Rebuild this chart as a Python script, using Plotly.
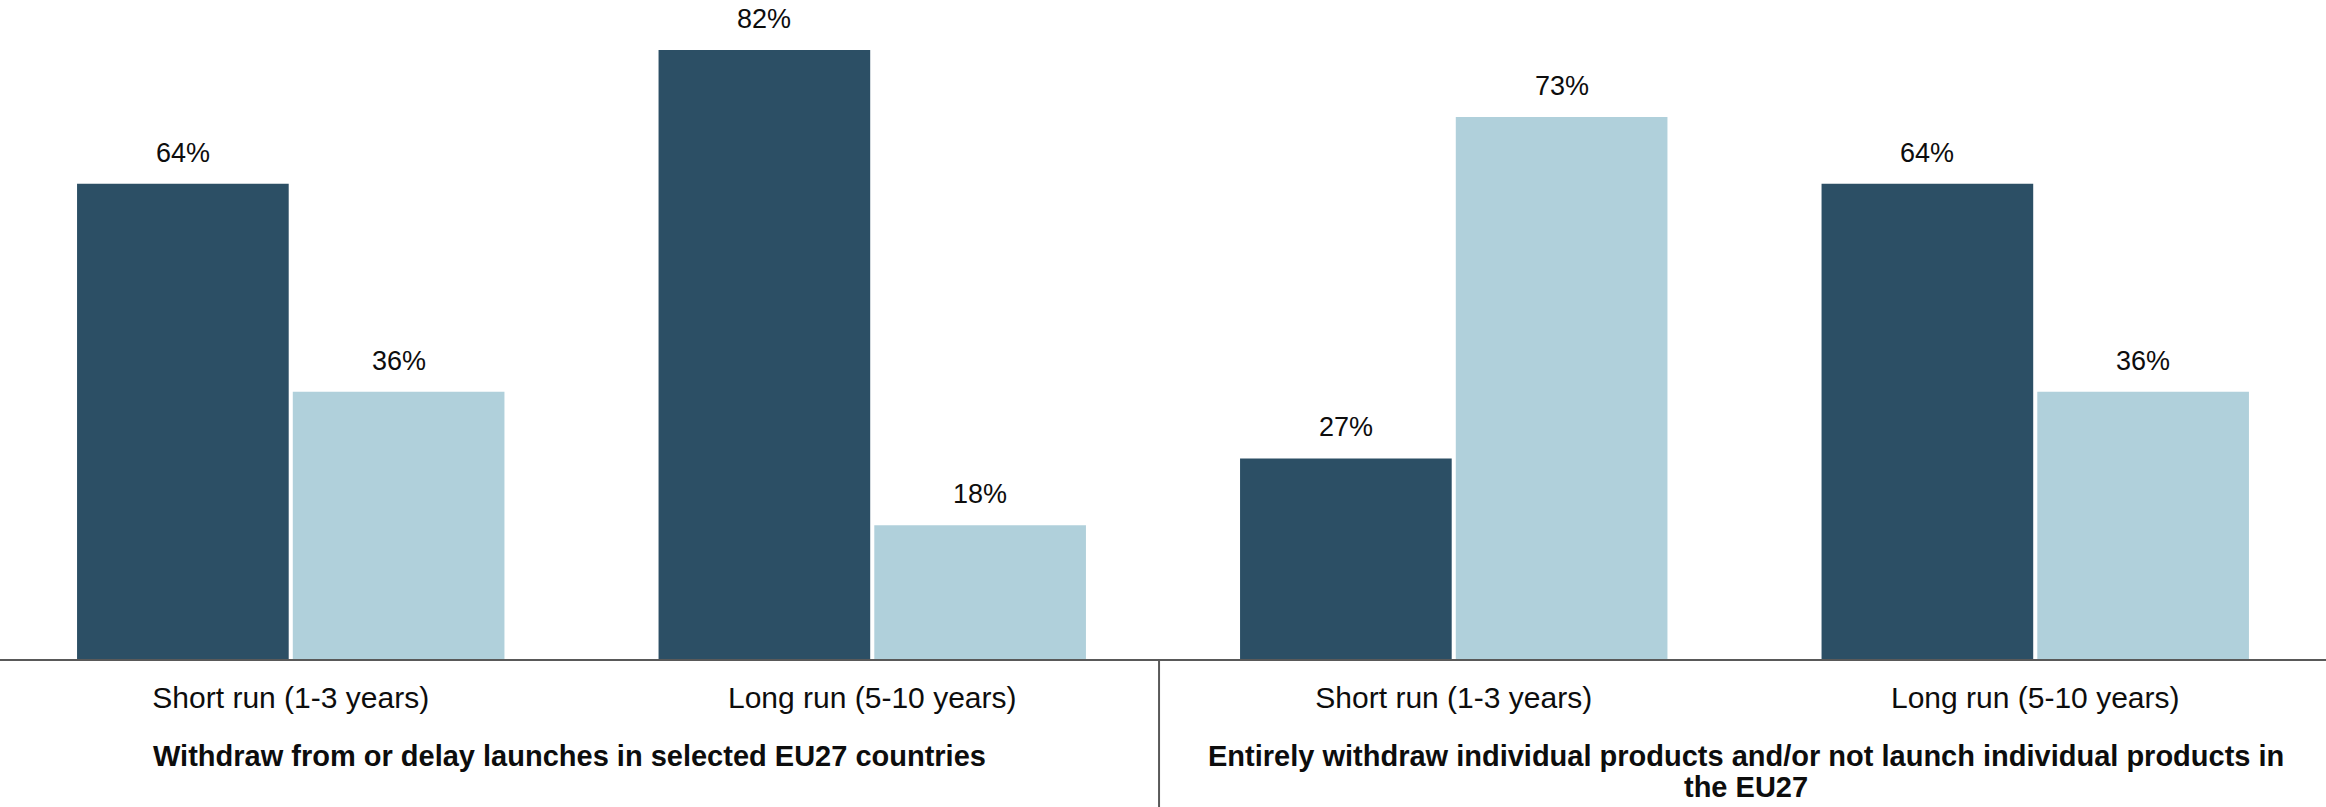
import plotly.graph_objects as go

# ---- data ----
categories = ["Short run (1-3 years)", "Long run (5-10 years)",
              "Short run (1-3 years)", "Long run (5-10 years)"]
group_title_1 = "Withdraw from or delay launches in selected EU27 countries"
group_title_2_lines = ["Entirely withdraw individual products and/or not launch individual products in",
                       "the EU27"]
series_dark = [64, 82, 27, 64]
series_light = [36, 18, 73, 36]

# ---- style ----
DARK = "#2C4F65"
LIGHT = "#B0D0DB"
TEXT = "#0D0D0D"
LINE = "#595959"
FONT = "Liberation Sans, Arial, sans-serif"
BAR_W = 0.364
OFF_DARK = -0.3675
OFF_LIGHT = 0.0035

xpos = list(range(len(categories)))

fig = go.Figure()
fig.add_trace(go.Bar(x=xpos, y=series_dark, width=BAR_W, offset=OFF_DARK,
                     marker=dict(color=DARK, line=dict(width=0)), name="Series 1",
                     hoverinfo="y"))
fig.add_trace(go.Bar(x=xpos, y=series_light, width=BAR_W, offset=OFF_LIGHT,
                     marker=dict(color=LIGHT, line=dict(width=0)), name="Series 2",
                     hoverinfo="y"))

annotations = []
for i, (a, b) in enumerate(zip(series_dark, series_light)):
    for v, off in ((a, OFF_DARK), (b, OFF_LIGHT)):
        annotations.append(dict(x=i + off + BAR_W / 2, y=v, xref="x", yref="y",
                                text=f"{v}%", showarrow=False, yanchor="middle",
                                yshift=31, font=dict(size=27, color=TEXT, family=FONT)))

annotations.append(dict(x=0.245, y=-0.1474, xref="paper", yref="paper",
                        text=f"<b>{group_title_1}</b>", showarrow=False,
                        xanchor="center", yanchor="middle",
                        font=dict(size=29, color=TEXT, family=FONT)))
for line_text, ypos in zip(group_title_2_lines, (-0.1474, -0.1945)):
    annotations.append(dict(x=0.7507, y=ypos, xref="paper", yref="paper",
                            text=f"<b>{line_text}</b>", showarrow=False,
                            xanchor="center", yanchor="middle",
                            font=dict(size=29, color=TEXT, family=FONT)))

fig.add_shape(type="line", xref="paper", yref="paper", x0=0.4983, x1=0.4983,
              y0=0, y1=-0.25, line=dict(color=LINE, width=2))

fig.update_layout(
    width=2326, height=807,
    margin=dict(l=0, r=0, t=0, b=148),
    paper_bgcolor="white", plot_bgcolor="white",
    barmode="overlay", showlegend=False,
    annotations=annotations,
    font=dict(family=FONT, color=TEXT),
    xaxis=dict(range=[-0.5, 3.5], tickmode="array", tickvals=xpos, ticktext=categories,
               showgrid=False, zeroline=False, showline=True, linecolor=LINE, linewidth=2,
               ticks="outside", ticklen=11, tickcolor="rgba(0,0,0,0)",
               tickfont=dict(size=30, color=TEXT, family=FONT), fixedrange=True),
    yaxis=dict(range=[0, 88.74], visible=False, showgrid=False, zeroline=False,
               fixedrange=True),
)

fig.write_html("out.html", config={"displayModeBar": False})
